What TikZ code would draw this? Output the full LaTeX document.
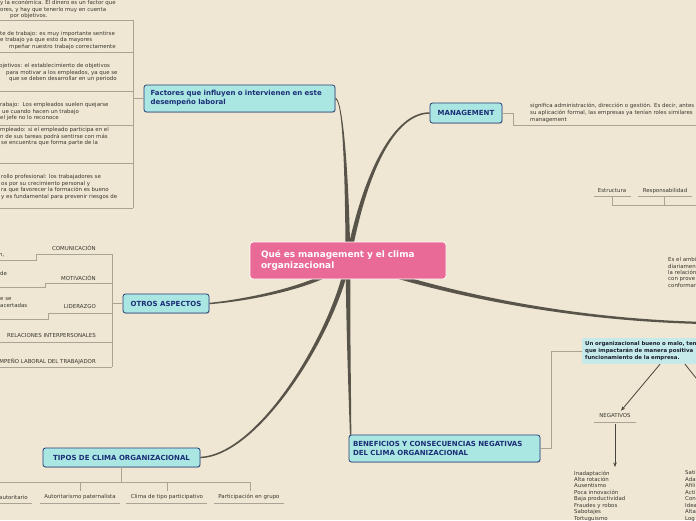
\documentclass[tikz,border=0pt]{standalone}
\usepackage{fontspec}
\setmainfont{DejaVu Sans}
\usepackage{tikz}
\usetikzlibrary{arrows.meta, positioning, calc, backgrounds, shadows}
\definecolor{paper}{RGB}{239,231,211}
\definecolor{rootfill}{RGB}{233,106,150}
\definecolor{topicfill}{RGB}{170,231,227}
\definecolor{topicline}{RGB}{38,60,118}
\definecolor{topictext}{RGB}{28,46,118}
\definecolor{notefill}{RGB}{198,234,233}
\definecolor{notetext}{RGB}{24,30,48}
\definecolor{boughc}{RGB}{88,84,74}
\definecolor{twigc}{RGB}{170,164,148}
\definecolor{leaftext}{RGB}{58,54,48}
\definecolor{arrowc}{RGB}{72,68,62}
\tikzset{
  root/.style={rectangle, rounded corners=3pt, draw=white, line width=0.8pt, fill=rootfill, text=white,
               font=\fontsize{8.9}{10.5}\selectfont\bfseries, align=left, text width=174pt,
               inner xsep=11pt, inner ysep=0pt, minimum height=37pt},
  topic/.style={rectangle, rounded corners=2.5pt, draw=topicline, line width=0.8pt, fill=topicfill,
                text=topictext, font=\fontsize{7}{9}\selectfont\bfseries, inner ysep=0pt,
                drop shadow={shadow xshift=0.7pt, shadow yshift=-0.9pt, opacity=0.3}},
  note/.style={rectangle, fill=notefill, text=notetext, font=\fontsize{5.4}{6.6}\selectfont\bfseries,
               align=left, inner xsep=3pt, inner ysep=0pt, minimum height=26pt, text width=130pt},
  leaf/.style={inner sep=0pt, text=leaftext, font=\fontsize{5.45}{6.5}\selectfont, align=left},
  twig/.style={draw=twigc, line width=0.8pt},
  arr/.style={-{Stealth[length=4.5pt, width=3.5pt]}, draw=arrowc, line width=0.8pt},
}
% rama gruesa que se afina hacia el tema
\newcommand{\bough}[5]{%
  \fill[boughc]
    ($(#1)!2.4pt!90:(#2)$) .. controls ($(#2)!1.9pt!90:(#3)$) and ($(#3)!1.2pt!90:(#4)$) .. ($(#4)!#5!-90:(#3)$)
    -- ($(#4)!#5!90:(#3)$) .. controls ($(#3)!1.2pt!-90:(#4)$) and ($(#2)!1.9pt!-90:(#3)$) .. ($(#1)!2.4pt!-90:(#2)$) -- cycle;}

\begin{document}
\begin{tikzpicture}[x=1pt,y=-1pt]
\useasboundingbox (0,0) rectangle (696,520);

% Nodo central y temas
\node[root] (root) at (348,260.5) {Qué es management y el clima\\organizacional};
\node[topic, align=left, text width=178pt, inner xsep=6.5pt, minimum height=27pt] (fac) at (239.5,98.5)
  {Factores que influyen o intervienen en este\\desempeño laboral};
\node[topic, minimum width=72pt, minimum height=20pt] (mgmt) at (466,113) {MANAGEMENT};
\node[topic, minimum width=86pt, minimum height=19pt] (otros) at (166,303.5) {OTROS ASPECTOS};
\node[topic, minimum width=157pt, minimum height=19pt] (tipos) at (121.5,457.5) {TIPOS DE CLIMA ORGANIZACIONAL};
\node[topic, align=left, text width=183pt, inner xsep=4pt, minimum height=27pt] (benef) at (444.5,448.5)
  {BENEFICIOS Y CONSECUENCIAS NEGATIVAS\\DEL CLIMA ORGANIZACIONAL};
\coordinate (benefin) at ([xshift=2pt]benef.north west);
\coordinate (rightend) at (706,323);

% Ramas gruesas
\begin{scope}[on background layer]
\fill[paper] (0,0) rectangle (696,520);
\bough{root.center}{347,175}{343,99}{fac.east}{0.7pt}
\bough{root.center}{365,170}{395,113}{mgmt.west}{0.7pt}
\bough{root.center}{325,285}{250,300}{otros.east}{0.7pt}
\bough{root.center}{335,330}{260,455}{tipos.east}{0.7pt}
\bough{root.center}{348,330}{350,400}{benefin}{0.7pt}
\bough{root.center}{430,290}{560,320}{rightend}{1.1pt}
\end{scope}

% Factores
\node[leaf, anchor=north west] (fa) at (0,0.2) {y la económica. El dinero es un factor que\\ores, y hay que tenerlo muy en cuenta\\\hspace*{10pt}por objetivos.};
\node[leaf, anchor=north west] (fb) at (0,30.8) {te de trabajo: es muy importante sentirse\\e trabajo ya que esto da mayores\\\hspace*{9pt}mpeñar nuestro trabajo correctamente};
\node[leaf, anchor=north west] (fc) at (-1,63.2) {bjetivos: el establecimiento de objetivos\\\hspace*{7pt}para motivar a los empleados, ya que se\\\hspace*{10pt}que se deben desarrollar en un periodo};
\node[leaf, anchor=north west] (fd) at (0,102.5) {rabajo:\ \ Los empleados suelen quejarse\\\hspace*{2pt}ue cuando hacen un trabajo\\el jefe no lo reconoce};
\node[leaf, anchor=north west] (fe) at (0,127.5) {mpleado: si el empleado participa en el\\n de sus tareas podrá sentirse con más\\\hspace*{1pt}se encuentra que forma parte de la};
\node[leaf, anchor=north west] (ff) at (1,174.5) {rollo profesional: los trabajadores se\\os por su crecimiento personal y\\ra que favorecer la formación es bueno\\y es fundamental para prevenir riesgos de};
\foreach \y in {20,52,91,125,163,208} \draw[twig] (0,\y) -- (133,\y);
\draw[twig] (133,20) -- (133,208);
\draw[twig] (fac.west) -- (fac.west -| 133,0);

% Otros aspectos
\node[leaf, anchor=east] (com) at (96,248) {COMUNICACIÓN};
\node[leaf, anchor=west] (comsub) at (-1,255) {n,};
\node[leaf, anchor=east] (mot) at (96,278) {MOTIVACIÓN};
\node[leaf, anchor=west] (motsub) at (0,273) {de};
\node[leaf, anchor=east] (lid) at (96,307) {LIDERAZGO};
\node[leaf, anchor=north west] (lidsub) at (0,297.5) {e se\\acertadas};
\node[leaf, anchor=east] (rel) at (96,336) {RELACIONES INTERPERSONALES};
\node[leaf, anchor=east] (des) at (96,362) {MPEÑO LABORAL DEL TRABAJADOR};
\draw[twig] (0,260) -- (36,260) -- (36,254) -- (112,254);
\draw[twig] (0,287) -- (45,287) -- (45,283) -- (112,283);
\draw[twig] (0,319) -- (48,319) -- (48,313) -- (112,313);
\draw[twig] (0,342) -- (112,342);
\draw[twig] (0,367) -- (112,367);
\draw[twig] (112,254) -- (112,367);
\draw[twig] (otros.west) -- (otros.west -| 112,0);

% Tipos de clima
\node[leaf, anchor=east] (t1) at (28,497) {autoritario};
\node[leaf] (t2) at (80,497) {Autoritarismo paternalista};
\node[leaf] (t3) at (167,497) {Clima de tipo participativo};
\node[leaf] (t4) at (249,497) {Participación en grupo};
\draw[twig] (tipos.south) -- (tipos.south |- 0,482);
\draw[twig] (0,482) -- (250,482);
\foreach \x in {80,167,250} \draw[twig] (\x,482) -- (\x,491);
\foreach \a/\b in {0/32,40/120,126/207,214/284} \draw[twig] (\a,503) -- (\b,503);

% Management
\node[leaf, anchor=north west, font=\fontsize{5.45}{7}\selectfont] (mdesc) at (530,102.5)
  {significa administración, dirección o gestión. Es decir, antes\\su aplicación formal, las empresas ya tenían roles similares\\management};
\draw[twig] (mgmt.east) -- (mgmt.east -| 513,0) -- (513,125) -- (700,125);
\node[leaf] (estr) at (612,191) {Estructura};
\node[leaf] (resp) at (665,191) {Responsabilidad};
\draw[twig] (594,196) -- (631,196);
\draw[twig] (638,196) -- (692,196);
\draw[twig] (612,196) -- (612,205) -- (700,205);
\draw[twig] (664,196) -- (664,205);
\node[leaf, anchor=north west, font=\fontsize{5.45}{6.3}\selectfont] (amb) at (668,257.5)
  {Es el ambi\\diariamen\\la relación\\con prove\\conformar};

% Beneficios y consecuencias
\node[note, anchor=west] (uorg) at (582,351) {Un organizacional bueno o malo, ten\\que impactarán de manera positiva\\funcionamiento de la empresa.};
\draw[twig] (benef.east) -- (benef.east -| 551,0) -- (uorg.west -| 551,0) -- (uorg.west);
\node[leaf] (neg) at (615,416) {NEGATIVOS};
\draw[twig] (594,422) -- (636,422);
\coordinate (negtip) at (615,467);
\coordinate (posend) at (712,398);
\draw[arr] ([xshift=78pt]uorg.south west) -- ([xshift=6pt,yshift=3pt]neg.north);
\draw[arr] ([xshift=103pt]uorg.south west) -- (posend);
\draw[arr] ([yshift=-6pt]neg.south) -- (negtip);
\node[leaf, anchor=north west, font=\fontsize{5.45}{6.45}\selectfont] (neglist) at (574,470.5)
  {Inadaptación\\Alta rotación\\Ausentismo\\Poca innovación\\Baja productividad\\Fraudes y robos\\Sabotajes\\Tortuguismo};
\node[leaf, anchor=north west, font=\fontsize{5.45}{6.45}\selectfont] (poslist) at (685,470.5)
  {Sati\\Ada\\Afili\\Acti\\Con\\Idea\\Alta\\Log};

\end{tikzpicture}
\end{document}
